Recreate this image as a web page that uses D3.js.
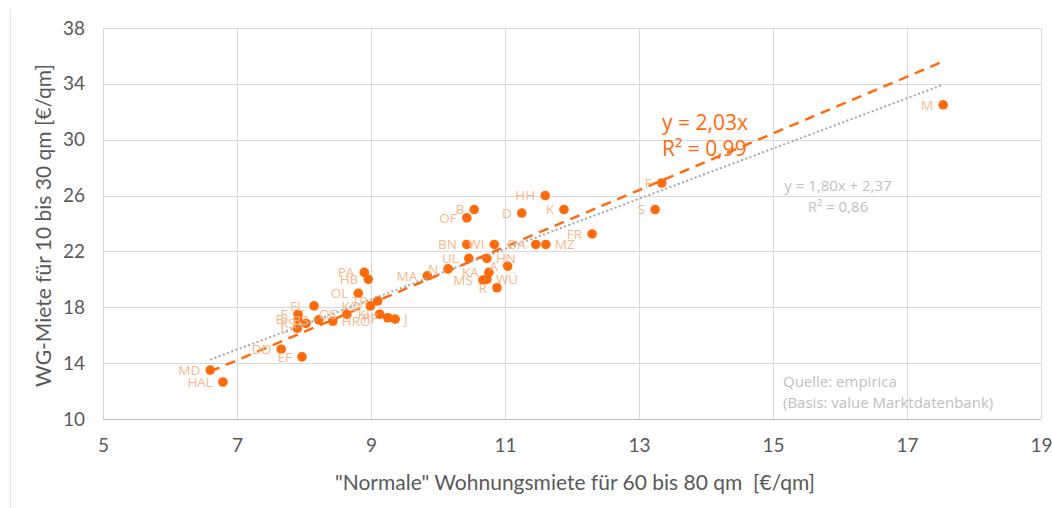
<!DOCTYPE html>
<html>
<head>
<meta charset="utf-8">
<script src="https://cdn.jsdelivr.net/npm/d3@7"></script>
<style>
  body { margin: 0; background: #fff; }
  svg { display: block; }
  .tick text { font-family: Lato, "Open Sans", sans-serif; font-size: 19px; fill: #595959; }
  .xtitle { white-space: pre; }
</style>
</head>
<body>
<div id="chart"></div>
<script>
const width = 1052;
const height = 508;
const margin = {top: 28, right: 11, bottom: 89, left: 103};

// city codes, normal rent (60-80 qm) and WG rent (10-30 qm), EUR/qm
const cities = ["M", "F", "S", "HH", "K", "D", "B", "OF", "FR", "BN", "WI", "DA", "MZ",
    "UL", "HN", "A", "KA", "WÜ", "MS", "R", "N", "MA", "PA", "HB", "OL", "TR", "KO",
    "FL", "KI", "PF", "J", "OS", "HRO", "BS", "E", "BI", "KS", "L", "DD", "EF", "MD", "HAL"];
const normalRent = [17.54, 13.34, 13.24, 11.60, 11.88, 11.25, 10.54, 10.43, 12.30, 10.43, 10.84, 11.46, 11.61,
    10.46, 10.73, 11.04, 10.76, 10.73, 10.67, 10.88, 10.15, 9.84, 8.90, 8.96, 8.81, 9.10, 8.99,
    8.15, 9.13, 9.25, 9.36, 8.64, 8.43, 8.22, 7.91, 7.91, 8.03, 7.90, 7.66, 7.97, 6.60, 6.79];
const wgRent = [32.5, 26.9, 25.0, 26.0, 25.0, 24.75, 25.0, 24.4, 23.25, 22.5, 22.5, 22.5, 22.5,
    21.5, 21.5, 20.95, 20.5, 20.0, 19.95, 19.4, 20.75, 20.25, 20.5, 20.0, 19.0, 18.45, 18.1,
    18.1, 17.5, 17.25, 17.15, 17.5, 17.0, 17.1, 17.5, 17.15, 16.85, 16.5, 15.0, 14.45, 13.5, 12.65];

const xTicks = [5, 7, 9, 11, 13, 15, 17, 19];
const yTicks = [10, 14, 18, 22, 26, 30, 34, 38];

// trendlines as shown in the chart
const trendOrigin = {slope: 2.03, r2: "0,99"};
const trendLinear = {slope: 1.80, intercept: 2.37, r2: "0,86"};

const rightLabels = new Set(["MZ", "HN", "WÜ", "HRO", "J"]);

const orange = "#ff6a0a";
const labelColor = "#f7b88e";
const grid = "#d9d9d9";

const points = cities.map((c, i) => ({name: c, x: normalRent[i], y: wgRent[i]}));
const fmt = v => d3.format(".2f")(v).replace(".", ",");

const svg = d3.select("#chart").append("svg")
    .attr("width", width)
    .attr("height", height);

// outer chart border (only left edge visible)
svg.append("line")
    .attr("x1", 10.5).attr("x2", 10.5)
    .attr("y1", 9).attr("y2", height)
    .attr("stroke", "#e4e4e4");

const x = d3.scaleLinear().domain([5, 19]).range([margin.left, width - margin.right]);
const y = d3.scaleLinear().domain([10, 38]).range([height - margin.bottom, margin.top]);

// gridlines
svg.append("g")
    .selectAll("line")
    .data(xTicks)
    .enter().append("line")
    .attr("x1", d => Math.round(x(d)) + 0.5).attr("x2", d => Math.round(x(d)) + 0.5)
    .attr("y1", y(38)).attr("y2", y(10))
    .attr("stroke", grid);
svg.append("g")
    .selectAll("line")
    .data(yTicks)
    .enter().append("line")
    .attr("x1", x(5)).attr("x2", x(19))
    .attr("y1", d => Math.round(y(d)) + 0.5).attr("y2", d => Math.round(y(d)) + 0.5)
    .attr("stroke", d => d === 10 ? "#bfbfbf" : grid);

// axes (labels only)
svg.append("g")
    .attr("transform", "translate(0," + y(10) + ")")
    .call(d3.axisBottom(x).tickValues(xTicks).tickSize(0).tickPadding(20).tickFormat(d3.format("d")))
    .call(g => g.select(".domain").remove());
svg.append("g")
    .attr("transform", "translate(" + x(5) + ",0)")
    .call(d3.axisLeft(y).tickValues(yTicks).tickSize(0).tickPadding(18).tickFormat(d3.format("d")))
    .call(g => g.select(".domain").remove());

svg.append("text")
    .attr("class", "xtitle")
    .attr("x", (x(5) + x(19)) / 2 + 3)
    .attr("y", 490)
    .attr("text-anchor", "middle")
    .attr("font-family", "Lato, sans-serif")
    .attr("font-size", 21)
    .attr("fill", "#595959")
    .text("\"Normale\" Wohnungsmiete für 60 bis 80 qm  [€/qm]");

svg.append("text")
    .attr("transform", "translate(51," + (y(24) + 2) + ") rotate(-90)")
    .attr("text-anchor", "middle")
    .attr("font-family", "Lato, sans-serif")
    .attr("font-size", 21)
    .attr("fill", "#595959")
    .text("WG-Miete für 10 bis 30 qm [€/qm]");

// points
svg.append("g")
    .selectAll("circle")
    .data(points)
    .enter().append("circle")
    .attr("cx", d => x(d.x))
    .attr("cy", d => y(d.y))
    .attr("r", 4.8)
    .attr("fill", orange);

// trendlines over the data range
const xExt = d3.extent(normalRent);
const line = d3.line().x(d => x(d[0])).y(d => y(d[1]));
svg.append("path")
    .attr("d", line(xExt.map(v => [v, trendLinear.slope * v + trendLinear.intercept])))
    .attr("stroke", "#a6a6a6")
    .attr("stroke-width", 2)
    .attr("stroke-dasharray", "2,2.5")
    .attr("fill", "none");
svg.append("path")
    .attr("d", line(xExt.map(v => [v, trendOrigin.slope * v])))
    .attr("stroke", orange)
    .attr("stroke-width", 2.5)
    .attr("stroke-dasharray", "10,7")
    .attr("fill", "none");

// point labels
svg.append("g")
    .selectAll("text")
    .data(points)
    .enter().append("text")
    .attr("x", d => x(d.x) + (rightLabels.has(d.name) ? 9 : -10))
    .attr("y", d => y(d.y))
    .attr("dy", "0.36em")
    .attr("text-anchor", d => rightLabels.has(d.name) ? "start" : "end")
    .attr("font-family", "'Open Sans', sans-serif")
    .attr("font-size", 13.5)
    .attr("fill", labelColor)
    .text(d => d.name);

// trendline equations
const eq1 = svg.append("text")
    .attr("font-family", "'Open Sans', sans-serif")
    .attr("font-size", 21)
    .attr("fill", orange);
eq1.append("tspan").attr("x", 662).attr("y", 130).text("y = " + fmt(trendOrigin.slope) + "x");
eq1.append("tspan").attr("x", 662).attr("y", 156).text("R² = " + trendOrigin.r2);

const eq2 = svg.append("text")
    .attr("font-family", "'Open Sans', sans-serif")
    .attr("font-size", 15)
    .attr("fill", "#bfbfbf")
    .attr("text-anchor", "middle");
eq2.append("tspan").attr("x", 838).attr("y", 191)
    .text("y = " + fmt(trendLinear.slope) + "x + " + fmt(trendLinear.intercept));
eq2.append("tspan").attr("x", 838).attr("y", 212).text("R² = " + trendLinear.r2);

// source note
const src = svg.append("text")
    .attr("font-family", "'Open Sans', sans-serif")
    .attr("font-size", 15)
    .attr("fill", "#bfbfbf");
src.append("tspan").attr("x", 783).attr("y", 387).text("Quelle: empirica");
src.append("tspan").attr("x", 783).attr("y", 408).text("(Basis: value Marktdatenbank)");
</script>
</body>
</html>
